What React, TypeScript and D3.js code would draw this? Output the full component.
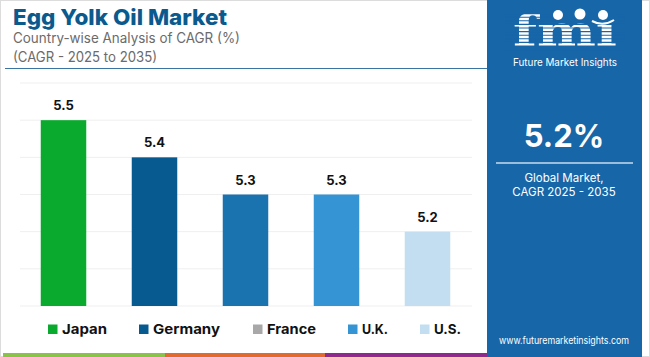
import React from "react";
import * as d3 from "d3";

const countries = ["Japan", "Germany", "France", "U.K.", "U.S."];
const cagr = [5.5, 5.4, 5.3, 5.3, 5.2];
const barColors = ["#0aaa2e", "#065a8f", "#1a72ae", "#3494d4", "#c2def0"];
const legendColors = ["#0aaa2e", "#065a8f", "#a8a8a8", "#3494d4", "#c2def0"];
const gridTicks = [5.0, 5.1, 5.2, 5.3, 5.4, 5.5, 5.6];
const legendX = [48, 139, 253, 348, 420];
const legendW = [45, 67, 49, 26, 27];

const W = 650;
const H = 357;
const PANEL = "#1766a8";

export default function App() {
  const x = d3.scaleBand<string>().domain(countries).range([18, 473]).paddingInner(0.5).paddingOuter(0.25);
  const y = d3.scaleLinear().domain([5.0, 5.6]).range([306, 83]);
  const stripes = d3.range(10, 50, 3.6);

  return (
    <svg width={W} height={H} style={{ position: "absolute", left: 0, top: 0 }} fontFamily="Inter, 'Open Sans', sans-serif">
      <rect x={0} y={0} width={W} height={H} fill="#fff" />
      <rect x={0.5} y={0.5} width={W - 1} height={H - 1} fill="none" stroke="#dcdcdc" />
      {/* Title */}
      <text x={13} y={25} fontSize={22} fontWeight={800} fill="#0b5a8e" textLength={214} lengthAdjust="spacingAndGlyphs">Egg Yolk Oil Market</text>
      <text x={13} y={42.5} fontSize={14} fill="#6b6b6b" textLength={227} lengthAdjust="spacingAndGlyphs">Country-wise Analysis of CAGR (%)</text>
      <text x={13} y={62} fontSize={14} fill="#6b6b6b" textLength={144} lengthAdjust="spacingAndGlyphs">(CAGR - 2025 to 2035)</text>
      <line x1={5} x2={488} y1={68.5} y2={68.5} stroke="#3a74a3" strokeWidth={1.2} />

      {/* grid */}
      {gridTicks.map((t) => (
        <line key={t} x1={20} x2={472} y1={y(t)} y2={y(t)} stroke="#efefef" strokeWidth={1} />
      ))}
      {/* bars */}
      {countries.map((c, i) => (
        <g key={c}>
          <rect x={x(c)} y={y(cagr[i])} width={x.bandwidth()} height={y(5.0) - y(cagr[i])} fill={barColors[i]} />
          <text x={(x(c) as number) + x.bandwidth() / 2} y={y(cagr[i]) - 10} textAnchor="middle" fontSize={13} fontWeight={700} fill="#111">
            {cagr[i].toFixed(1)}
          </text>
        </g>
      ))}

      {/* legend */}
      {countries.map((c, i) => (
        <g key={"lg" + c}>
          <rect x={legendX[i]} y={324.5} width={9.5} height={9.5} fill={legendColors[i]} />
          <text x={legendX[i] + 14} y={334} fontSize={13.5} fontWeight={700} fill="#111" textLength={legendW[i]} lengthAdjust="spacingAndGlyphs">{c}</text>
        </g>
      ))}

      {/* bottom strip */}
      <rect x={3} y={353} width={162} height={4} fill="#8bc34a" />
      <rect x={165} y={353} width={160} height={4} fill="#e06a2f" />
      <rect x={325} y={353} width={162} height={4} fill="#8e2a8e" />

      {/* right panel */}
      <rect x={487} y={0} width={155} height={H} fill={PANEL} />
      <defs>
        <clipPath id="logoClip">
          <rect x={505} y={8} width={120} height={44} />
        </clipPath>
      </defs>
      <g clipPath="url(#logoClip)">
        <text x={565} y={46} textAnchor="middle" fontSize={42} fontWeight={700} fill="#fff" fontFamily="'DejaVu Serif', serif" textLength={104} lengthAdjust="spacingAndGlyphs">fmi</text>
        {stripes.map((s) => (
          <line key={s} x1={505} x2={625} y1={s} y2={s} stroke={PANEL} strokeWidth={1.1} />
        ))}
      </g>
      <rect x={556} y={6} width={62} height={16} fill={PANEL} />
      <circle cx={558} cy={15} r={5} fill="#fff" />
      <circle cx={580} cy={14} r={5.5} fill="#fff" />
      <circle cx={603} cy={15} r={5} fill="#fff" />
      <path d="M 592 21 Q 603 27 614 20" fill="none" stroke="#fff" strokeWidth={2} />
      <text x={565} y={66} textAnchor="middle" fontSize={10.5} fill="#fff" textLength={104} lengthAdjust="spacingAndGlyphs">Future Market Insights</text>

      <text x={564} y={147} textAnchor="middle" fontSize={31} fontWeight={700} fill="#fff">5.2%</text>
      <line x1={496} x2={633} y1={163} y2={163} stroke="#c9dcee" strokeWidth={1.5} />
      <text x={564} y={182} textAnchor="middle" fontSize={11.5} fill="#fff">Global Market,</text>
      <text x={564} y={196} textAnchor="middle" fontSize={11.5} fill="#fff">CAGR 2025 - 2035</text>
      <text x={564} y={344} textAnchor="middle" fontSize={10} fill="#fff" textLength={130} lengthAdjust="spacingAndGlyphs">www.futuremarketinsights.com</text>
    </svg>
  );
}
